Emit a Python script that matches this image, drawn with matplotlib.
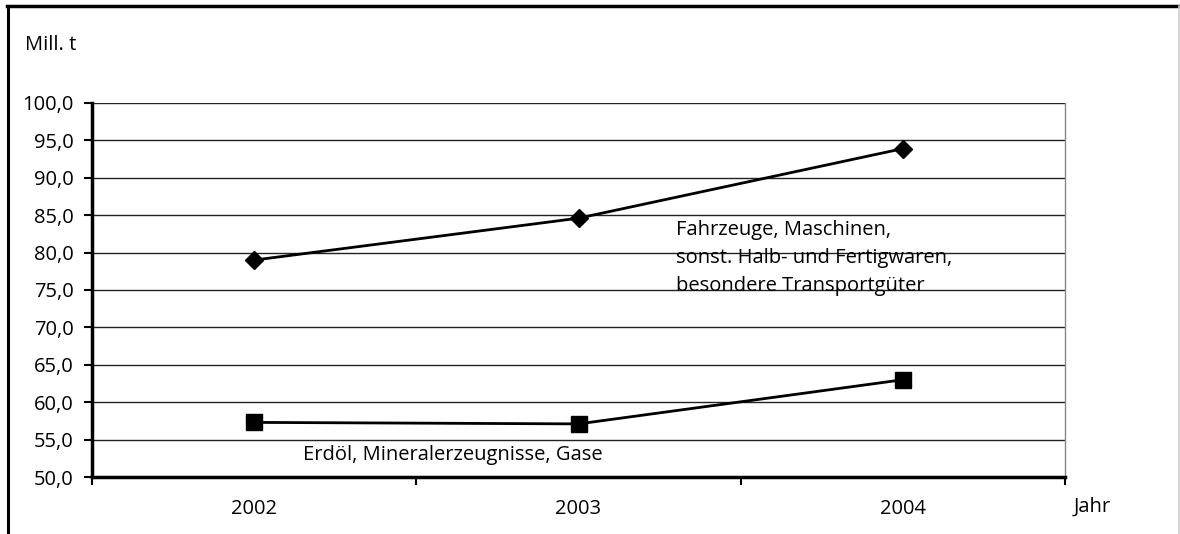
import matplotlib.pyplot as plt
from matplotlib.lines import Line2D

# data
years = ['2002', '2003', '2004']
fahrzeuge = [79.0, 84.6, 93.9]
erdoel = [57.3, 57.1, 63.0]
yticks = [50, 55, 60, 65, 70, 75, 80, 85, 90, 95, 100]

label_fahrzeuge = 'Fahrzeuge, Maschinen,\nsonst. Halb- und Fertigwaren,\nbesondere Transportgüter'
label_erdoel = 'Erdöl, Mineralerzeugnisse, Gase'

plt.rcParams['font.family'] = ['Open Sans', 'DejaVu Sans']
fs = 14.5

fig = plt.figure(figsize=(11.8, 5.34), dpi=100)
ax = fig.add_axes([92 / 1180, 1 - 477 / 534, (1065 - 92) / 1180, (477 - 103) / 534])

x = list(range(len(years)))
ax.plot(x, fahrzeuge, color='black', lw=2, marker='D', ms=9, zorder=3)
ax.plot(x, erdoel, color='black', lw=2, marker='s', ms=11, zorder=3)

ax.set_xlim(-0.5, len(years) - 0.5)
ax.set_ylim(50, 100)
ax.set_yticks(yticks)
ax.set_yticklabels([('%.1f' % v).replace('.', ',') for v in yticks], fontsize=fs)
ax.set_xticks([i - 0.5 for i in range(len(years) + 1)])
ax.set_xticklabels([])
ax.set_xticks(x, minor=True)
ax.set_xticklabels(years, minor=True, fontsize=fs)
ax.tick_params(axis='x', which='minor', length=0, pad=16)
ax.tick_params(axis='x', which='major', direction='out', length=6, width=1.5)
ax.tick_params(axis='y', direction='out', length=6, width=1.5, pad=7)

ax.grid(axis='y', color='#222222', lw=1)
ax.set_axisbelow(True)
for side in ['left', 'bottom']:
    ax.spines[side].set_linewidth(2.5)
ax.spines['top'].set_visible(False)
ax.spines['right'].set_color('#888888')
ax.spines['right'].set_linewidth(1)

ax.text(1.3, 84.4, label_fahrzeuge, fontsize=fs, va='top', ha='left', linespacing=1.55)
ax.text(0.15, 52.9, label_erdoel, fontsize=fs, va='center', ha='left')

fig.text(25 / 1180, 1 - 45 / 534, 'Mill. t', fontsize=fs, va='center', ha='left')
fig.text(1074 / 1180, 1 - 507 / 534, 'Jahr', fontsize=fs, va='center', ha='left')

# frame around the chart (left, top dark; right light)
fig.add_artist(Line2D([8 / 1180, 8 / 1180], [0, 1 - 6 / 534], color='black', lw=2.2))
fig.add_artist(Line2D([7 / 1180, 1], [1 - 6 / 534, 1 - 6 / 534], color='black', lw=2.5))
fig.add_artist(Line2D([1178.5 / 1180, 1178.5 / 1180], [0, 1 - 6 / 534], color='#cccccc', lw=1.2))

fig.savefig('out.png', dpi=100)
